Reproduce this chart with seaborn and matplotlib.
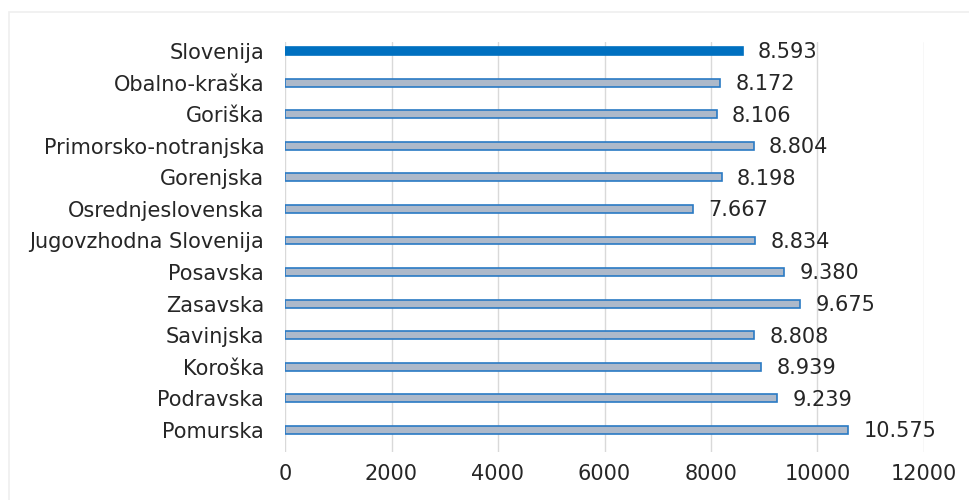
import matplotlib
matplotlib.use("Agg")
import matplotlib.pyplot as plt
import seaborn as sns
import pandas as pd
from matplotlib.patches import Rectangle

regions = ["Slovenija", "Obalno-kraška", "Goriška", "Primorsko-notranjska",
           "Gorenjska", "Osrednjeslovenska", "Jugovzhodna Slovenija", "Posavska",
           "Zasavska", "Savinjska", "Koroška", "Podravska", "Pomurska"]
values = [8593, 8172, 8106, 8804, 8198, 7667, 8834, 9380, 9675, 8808, 8939, 9239, 10575]
x_ticks = [0, 2000, 4000, 6000, 8000, 10000, 12000]

sns.set_theme(style="white")
plt.rcParams['font.family'] = ['DejaVu Sans']
FS = 15
TXT = "#262626"

df = pd.DataFrame({"region": regions, "value": values})

fig = plt.figure(figsize=(9.7, 5.0), dpi=100)
ax = fig.add_axes([285/970, 1 - 452/500, (924-285)/970, 410/500])

colors = ["#0070C0"] + ["#ADB9CA"] * (len(regions) - 1)
sns.barplot(data=df, x="value", y="region", hue="region", palette=colors,
            legend=False, width=0.25, orient="h", ax=ax, saturation=1)
for i, p in enumerate(ax.patches):
    if i == 0:
        p.set_edgecolor("#0070C0")
    else:
        p.set_edgecolor("#2A7AC4")
    p.set_linewidth(1.2)

ax.set_xlim(0, 12000)
ax.set_ylim(12.70, -0.285)
ax.set_xticks(x_ticks)
ax.set_xticklabels([str(t) for t in x_ticks], fontsize=FS, color=TXT)
ax.tick_params(axis="y", labelsize=FS, labelcolor=TXT, length=0, pad=15)
ax.tick_params(axis="x", length=0, pad=9)
ax.xaxis.grid(True, color="#D9D9D9", linewidth=1)
ax.set_axisbelow(True)
for s in ax.spines.values():
    s.set_visible(False)
ax.set_xlabel("")
ax.set_ylabel("")

for i, v in enumerate(values):
    lbl = f"{v:,}".replace(",", ".")
    ax.annotate(lbl, (v, i), xytext=(11, -1), textcoords="offset points",
                va="center", ha="left", fontsize=FS, color=TXT)

fig.patches.append(Rectangle((9/970, -0.1), 1.2, 1 - 12/500 + 0.1,
                             transform=fig.transFigure, fill=False,
                             edgecolor="#EFEFEF", linewidth=1.2))

fig.savefig("out.png", dpi=100)
